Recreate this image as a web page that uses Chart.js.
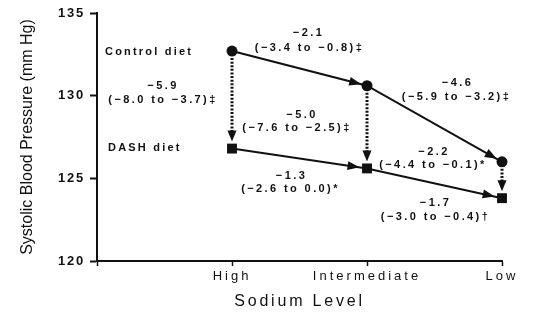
<!DOCTYPE html>
<html>
<head>
<meta charset="utf-8">
<script src="https://cdn.jsdelivr.net/npm/chart.js@4.4.1/dist/chart.umd.min.js"></script>
<style>
  html, body { margin: 0; padding: 0; background: #ffffff; }
  #wrap { width: 541px; height: 333px; }
</style>
</head>
<body>
<div id="wrap"><canvas id="c" width="541" height="333"></canvas></div>
<script>
// ---- data ----
const categories = ['High', 'Intermediate', 'Low'];
const controlDiet = [132.7, 130.6, 126.0];
const dashDiet = [126.8, 125.6, 123.8];
const yTicks = [120, 125, 130, 135];
const seriesNames = ['Control diet', 'DASH diet'];
// change across sodium levels, within each diet
const controlChange = ['\u22122.1', '\u22124.6'];
const controlCI = ['(\u22123.4 to \u22120.8)\u2021', '(\u22125.9 to \u22123.2)\u2021'];
const dashChange = ['\u22121.3', '\u22121.7'];
const dashCI = ['(\u22122.6 to 0.0)*', '(\u22123.0 to \u22120.4)\u2020'];
// DASH vs control at each sodium level
const dietChange = ['\u22125.9', '\u22125.0', '\u22122.2'];
const dietCI = ['(\u22128.0 to \u22123.7)\u2021', '(\u22127.6 to \u22122.5)\u2021', '(\u22124.4 to \u22120.1)*'];

const FAMILY = "'Liberation Sans', Arial, Helvetica, sans-serif";
const INK = '#111';

function drawHead(ctx, tx, ty, ang, len, half) {
  ctx.save();
  ctx.translate(tx, ty);
  ctx.rotate(ang);
  ctx.beginPath();
  ctx.moveTo(0, 0);
  ctx.lineTo(-len, -half);
  ctx.lineTo(-len, half);
  ctx.closePath();
  ctx.fillStyle = INK;
  ctx.fill();
  ctx.restore();
}

const spacingPlugin = {
  id: 'spacing',
  beforeDraw(chart) {
    const cfg = { x: { ticks: '3px', title: '2.8px' }, y: { ticks: '1.8px', title: '0px' } };
    for (const id of ['x', 'y']) {
      const s = chart.scales[id];
      if (!s || s._spaced) continue;
      s._spaced = true;
      const oL = s.drawLabels, oT = s.drawTitle;
      s.drawLabels = function (a) {
        const c = this.ctx, p = c.letterSpacing;
        c.letterSpacing = cfg[id].ticks; oL.call(this, a); c.letterSpacing = p;
      };
      s.drawTitle = function () {
        const c = this.ctx, p = c.letterSpacing;
        c.letterSpacing = cfg[id].title; oT.call(this); c.letterSpacing = p;
      };
    }
  }
};

const arrowPlugin = {
  id: 'arrows',
  afterDatasetsDraw(chart) {
    const { ctx, scales: { x, y } } = chart;
    const px = i => x.getPixelForValue(i + 1);
    const py = v => y.getPixelForValue(v);
    // heads on the solid connectors
    [[controlDiet, 6], [dashDiet, 7.5]].forEach(([arr, back]) => {
      for (let i = 0; i < arr.length - 1; i++) {
        const x0 = px(i), y0 = py(arr[i]), x1 = px(i + 1), y1 = py(arr[i + 1]);
        const ang = Math.atan2(y1 - y0, x1 - x0);
        drawHead(ctx, x1 - Math.cos(ang) * back, y1 - Math.sin(ang) * back, ang, 12, 4.5);
      }
    });
    // dotted vertical arrows control -> DASH
    categories.forEach((c, i) => {
      const xx = px(i), ya = py(controlDiet[i]), yb = py(dashDiet[i]);
      const tip = yb - 7, len = 11;
      ctx.save();
      ctx.strokeStyle = INK;
      ctx.lineWidth = 3;
      ctx.setLineDash([2, 1.6]);
      ctx.beginPath();
      ctx.moveTo(xx, ya + 7);
      ctx.lineTo(xx, tip - len + 1);
      ctx.stroke();
      ctx.restore();
      drawHead(ctx, xx, tip, Math.PI / 2, len, 4.5);
    });
  }
};

const notePlugin = {
  id: 'notes',
  afterDraw(chart) {
    const { ctx, scales: { x, y } } = chart;
    const px = i => x.getPixelForValue(i + 1);
    const py = v => y.getPixelForValue(v);
    const midAlong = (arr, i) => [(px(i) + px(i + 1)) / 2, (py(arr[i]) + py(arr[i + 1])) / 2];
    const midDiet = i => [px(i), (py(controlDiet[i]) + py(dashDiet[i])) / 2];
    const notes = [
      { a: midAlong(controlDiet, 0), t: [controlChange[0], controlCI[0]], o: [[9, -35], [10, -20]] },
      { a: midAlong(controlDiet, 1), t: [controlChange[1], controlCI[1]], o: [[23, -41], [22, -27]] },
      { a: midDiet(0), t: [dietChange[0], dietCI[0]], o: [[-69, -14], [-69, 0]] },
      { a: midDiet(1), t: [dietChange[1], dietCI[1]], o: [[-65, -12], [-70, 1]] },
      { a: midDiet(2), t: [dietChange[2], dietCI[2]], o: [[-68, -28], [-69, -15]] },
      { a: midAlong(dashDiet, 0), t: [dashChange[0], dashCI[0]], o: [[-8, 17], [-9, 30]] },
      { a: midAlong(dashDiet, 1), t: [dashChange[1], dashCI[1]], o: [[1, 20], [1, 34]] }
    ];
    ctx.save();
    ctx.fillStyle = INK;
    ctx.font = 'bold 11px ' + FAMILY;
    ctx.letterSpacing = '2.4px';
    ctx.textAlign = 'center';
    ctx.textBaseline = 'middle';
    notes.forEach(n => {
      n.t.forEach((s, k) => ctx.fillText(s, n.a[0] + n.o[k][0], n.a[1] + n.o[k][1]));
    });
    // series labels
    ctx.textAlign = 'left';
    ctx.letterSpacing = '2.2px';
    chart.data.datasets.forEach((ds, k) => {
      const first = ds.data[0];
      const off = k === 0 ? [-127, 1] : [-124, -1];
      ctx.fillText(ds.label, x.getPixelForValue(first.x) + off[0], y.getPixelForValue(first.y) + off[1]);
    });
    ctx.restore();
  }
};

new Chart(document.getElementById('c'), {
  type: 'scatter',
  data: {
    datasets: [
      {
        label: seriesNames[0],
        data: categories.map((c, i) => ({ x: i + 1, y: controlDiet[i] })),
        showLine: true,
        borderColor: INK,
        borderWidth: 2,
        pointStyle: 'circle',
        pointRadius: 5.5,
        pointBackgroundColor: INK,
        pointBorderWidth: 0,
        clip: false
      },
      {
        label: seriesNames[1],
        data: categories.map((c, i) => ({ x: i + 1, y: dashDiet[i] })),
        showLine: true,
        borderColor: INK,
        borderWidth: 2,
        pointStyle: 'rect',
        pointRadius: 7,
        pointBackgroundColor: INK,
        pointBorderWidth: 0,
        clip: false
      }
    ]
  },
  options: {
    responsive: false,
    animation: false,
    devicePixelRatio: 1,
    layout: { padding: { top: 13, right: 39, bottom: 0, left: 0 } },
    plugins: { legend: { display: false }, tooltip: { enabled: false } },
    scales: {
      x: {
        type: 'linear',
        min: 0,
        max: categories.length,
        afterBuildTicks: s => { s.ticks = [0, ...categories.map((c, i) => i + 1)].map(v => ({ value: v })); },
        afterFit: s => { s.height = 72; },
        ticks: {
          autoSkip: false,
          maxRotation: 0,
          padding: 3,
          color: INK,
          font: { family: FAMILY, size: 13 },
          callback: v => categories[v - 1] ?? ''
        },
        grid: { drawOnChartArea: false, drawTicks: true, tickLength: 5, tickWidth: 1.5, tickColor: INK },
        border: { display: true, color: INK, width: 2 },
        title: {
          display: true, text: 'Sodium Level', color: INK,
          font: { family: FAMILY, size: 16 }, padding: { top: 0, bottom: 22 }
        }
      },
      y: {
        min: yTicks[0],
        max: yTicks[yTicks.length - 1],
        afterBuildTicks: s => { s.ticks = yTicks.map(v => ({ value: v })); },
        afterFit: s => { s.width = 97; },
        ticks: {
          autoSkip: false,
          padding: 5,
          color: INK,
          font: { family: FAMILY, size: 13, weight: 'bold' }
        },
        grid: { drawOnChartArea: false, drawTicks: true, tickLength: 7, tickWidth: 2, tickColor: INK },
        border: { display: true, color: INK, width: 2 },
        title: {
          display: true, text: 'Systolic Blood Pressure (mm Hg)', color: INK,
          font: { family: FAMILY, size: 16 }, padding: { top: 18, bottom: 0 }
        }
      }
    }
  },
  plugins: [spacingPlugin, arrowPlugin, notePlugin]
});
</script>
</body>
</html>
